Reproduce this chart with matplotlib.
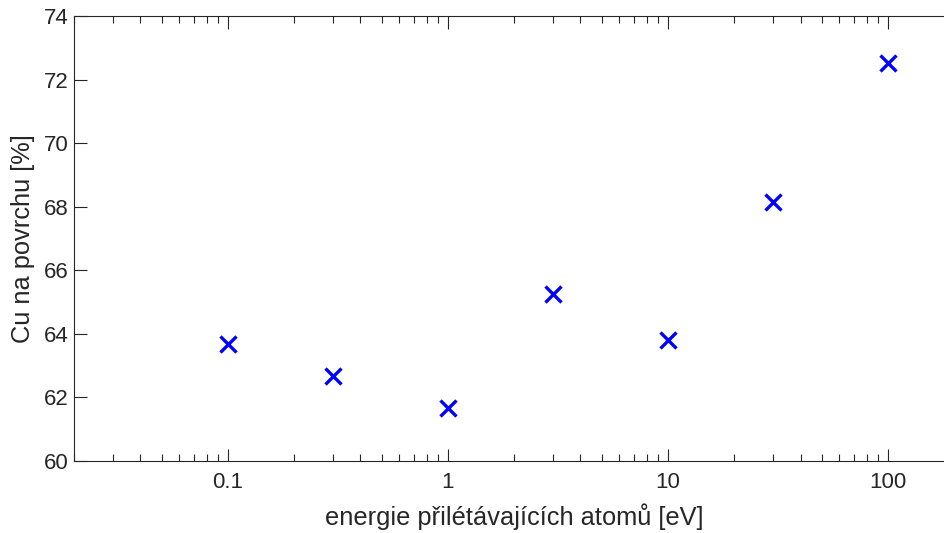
import numpy as np
import matplotlib.pyplot as plt
from matplotlib.ticker import LogLocator, FixedLocator, FixedFormatter

energie = [0.1, 0.3, 1, 3, 10, 30, 100]
cu_povrch = [63.68, 62.68, 61.68, 65.24, 63.8, 68.14, 72.52]
xticks = [0.1, 1, 10, 100]
xticklabels = ["0.1", "1", "10", "100"]
yticks = [60, 62, 64, 66, 68, 70, 72, 74]

plt.rcParams['font.family'] = ['Liberation Sans', 'DejaVu Sans']
c_ax = "#262626"

fig = plt.figure(figsize=(9.44, 5.33), dpi=100)
ax = fig.add_axes([74/944, 72/533, 880.4/944, 445/533])

ax.plot(energie, cu_povrch, "x", color="#0000ff", markersize=11, markeredgewidth=2.4, clip_on=False)

ax.set_xscale("log")
ax.set_xlim(0.02, 200)
ax.set_ylim(60, 74)
ax.xaxis.set_major_locator(FixedLocator(xticks))
ax.xaxis.set_major_formatter(FixedFormatter(xticklabels))
ax.xaxis.set_minor_locator(LogLocator(base=10, subs=np.arange(2, 10)))
ax.set_yticks(yticks)

for s in ax.spines.values():
    s.set_color(c_ax)
    s.set_linewidth(0.8)

ax.tick_params(which="both", direction="in", top=True, right=False, colors=c_ax, labelsize=16, width=0.8)
ax.tick_params(which="major", length=9, pad=8)
ax.tick_params(which="minor", length=5)
ax.tick_params(axis="y", pad=4)

ax.set_xlabel("energie přilétávajících atomů [eV]", fontsize=18.3, color=c_ax, labelpad=7)
ax.set_ylabel("Cu na povrchu [%]", fontsize=18.3, color=c_ax, labelpad=6)

fig.savefig("out.png", dpi=100)
